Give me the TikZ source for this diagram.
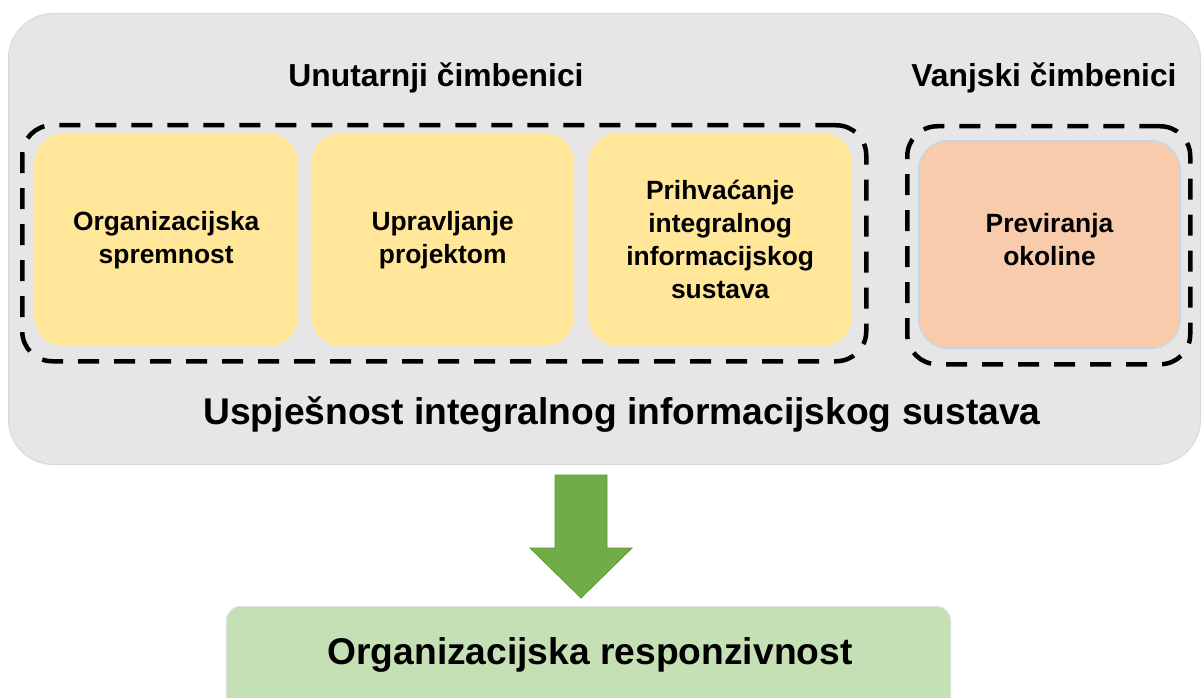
\documentclass[tikz,border=0pt]{standalone}
\usepackage{fontspec}
\setmainfont{Liberation Sans}
\usetikzlibrary{calc}
\begin{document}
\begin{tikzpicture}[x=1pt,y=-1pt,
  outerbox/.style={draw=black!15,line width=1pt,rounded corners=45pt},
  dashbox/.style={draw=black,line width=4.5pt,dash pattern=on 21pt off 15pt,rounded corners=30pt},
  inbox/.style={rounded corners=30pt,align=center,inner sep=0pt,font=\fontsize{26.4}{33}\selectfont\bfseries},
  ybox/.style={inbox,fill=yboxc},
  title/.style={font=\fontsize{31.8}{38}\selectfont\bfseries},
  bigtext/.style={font=\fontsize{37.2}{44}\selectfont\bfseries},
]
\definecolor{yboxc}{HTML}{FFE699}
\definecolor{sboxc}{HTML}{F8CBAD}
\definecolor{sborder}{HTML}{BDD7EE}
\definecolor{gboxc}{HTML}{C5E0B4}
\definecolor{arrc}{HTML}{70AD47}
\definecolor{arrd}{HTML}{5E9A3A}
\definecolor{outc}{HTML}{E6E6E6}
\useasboundingbox (0,0) rectangle (1204,698);
% outer
\node[outerbox,fill=outc,minimum width=1192pt,minimum height=451pt,inner sep=0pt,anchor=north west] (outer) at (8,13) {};
\node[title] (tin) at (436,78) {Unutarnji čimbenici};
\node[title] (tvan) at (1044,78) {Vanjski čimbenici};
% dashed groups
\node[dashbox,minimum width=844pt,minimum height=236pt,anchor=north west,inner sep=0pt] (gin) at (20,123) {};
\node[dashbox,minimum width=283pt,minimum height=238pt,anchor=north west,inner sep=0pt] (gvan) at (905,124) {};
% inner boxes
\node[ybox,minimum width=264pt,minimum height=213pt,anchor=north west] (b1) at (34,133) {Organizacijska\\spremnost};
\node[ybox,minimum width=263pt,minimum height=213pt,anchor=north west] (b2) at (311,133) {Upravljanje\\projektom};
\node[ybox,minimum width=264pt,minimum height=213pt,anchor=north west] (b3) at (588,133) {Prihvaćanje\\integralnog\\informacijskog\\sustava};
\node[inbox,fill=sboxc,draw=sborder,line width=1pt,minimum width=262pt,minimum height=208pt,anchor=north west] (b4) at (918,140) {};
\node[inbox,fill=none,draw=none] (b4t) at ($(b4.center)+(0,-5)$) {Previranja\\okoline};
\node[bigtext] (usp) at (622,415) {Uspješnost integralnog informacijskog sustava};
% bottom box
\node[fill=gboxc,draw=black!12,line width=1pt,rounded corners=14pt,minimum width=724pt,minimum height=110pt,anchor=north west,inner sep=0pt] (res) at (226,606) {};
\node[bigtext] (rest) at (590,655) {Organizacijska responzivnost};
% arrow
\coordinate (atop) at (581,475);
\coordinate (atip) at (581,598);
\filldraw[fill=arrc,draw=arrd,line width=0.8pt]
  ($(atop)+(-26,0)$) -- ($(atop)+(26,0)$) -- (607,548) -- (632,548) -- (atip) -- (530,548) -- (555,548) -- cycle;
\end{tikzpicture}
\end{document}
